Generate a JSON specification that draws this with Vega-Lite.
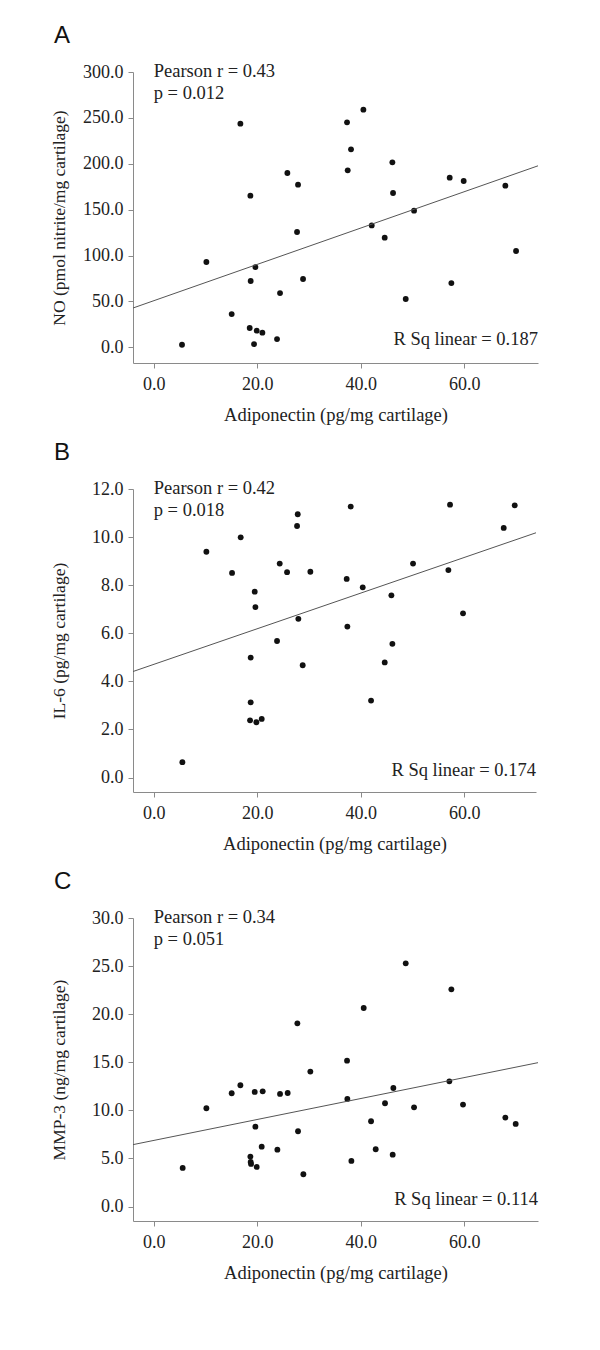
{
  "$schema": "https://vega.github.io/schema/vega-lite/v6.json",
  "padding": {"left": 50, "top": 24, "right": 10, "bottom": 10},
  "background": "white",
  "spacing": 17,
  "config": {
    "view": {"stroke": null},
    "axis": {
      "grid": false,
      "domainColor": "#8a8a8a",
      "tickColor": "#8a8a8a",
      "tickSize": 5,
      "labelFont": "Liberation Serif",
      "labelFontSize": 18,
      "labelColor": "#222222",
      "titleFont": "Liberation Serif",
      "titleFontSize": 18.5,
      "titleFontWeight": "normal",
      "titleColor": "#222222",
      "labelOverlap": false,
      "labelFlush": false
    },
    "axisX": {"labelPadding": 7, "titlePadding": 12},
    "axisY": {"labelPadding": 5, "titleFontSize": 17.5},
    "title": {
      "anchor": "start",
      "frame": "group",
      "font": "Liberation Sans",
      "fontSize": 24,
      "fontWeight": "normal",
      "color": "#111111",
      "dx": -79,
      "offset": 14
    },
    "text": {"font": "Liberation Serif", "fontSize": 18.5, "color": "#222222"}
  },
  "datasets": {
    "a": [
      {"adiponectin": 5.47, "no": 2.9},
      {"adiponectin": 10.18, "no": 93.0},
      {"adiponectin": 15.07, "no": 36.3},
      {"adiponectin": 16.75, "no": 243.7},
      {"adiponectin": 18.68, "no": 165.3},
      {"adiponectin": 18.74, "no": 72.3},
      {"adiponectin": 18.55, "no": 21.1},
      {"adiponectin": 19.65, "no": 87.5},
      {"adiponectin": 19.39, "no": 3.6},
      {"adiponectin": 19.9, "no": 18.2},
      {"adiponectin": 21.0, "no": 16.0},
      {"adiponectin": 23.83, "no": 9.1},
      {"adiponectin": 24.41, "no": 59.2},
      {"adiponectin": 25.83, "no": 190.0},
      {"adiponectin": 27.89, "no": 177.3},
      {"adiponectin": 27.7, "no": 125.7},
      {"adiponectin": 28.86, "no": 74.5},
      {"adiponectin": 37.36, "no": 245.2},
      {"adiponectin": 37.49, "no": 192.9},
      {"adiponectin": 38.13, "no": 215.8},
      {"adiponectin": 40.52, "no": 259.0},
      {"adiponectin": 42.13, "no": 132.9},
      {"adiponectin": 44.64, "no": 119.5},
      {"adiponectin": 46.12, "no": 201.6},
      {"adiponectin": 46.25, "no": 168.2},
      {"adiponectin": 48.7, "no": 52.7},
      {"adiponectin": 50.31, "no": 148.9},
      {"adiponectin": 57.2, "no": 184.9},
      {"adiponectin": 57.52, "no": 70.1},
      {"adiponectin": 59.9, "no": 181.3},
      {"adiponectin": 67.95, "no": 176.2},
      {"adiponectin": 70.02, "no": 105.0}
    ],
    "b": [
      {"adiponectin": 5.54, "il6": 0.64},
      {"adiponectin": 10.18, "il6": 9.39},
      {"adiponectin": 15.14, "il6": 8.51},
      {"adiponectin": 16.81, "il6": 9.99},
      {"adiponectin": 19.52, "il6": 7.73},
      {"adiponectin": 19.65, "il6": 7.09},
      {"adiponectin": 18.74, "il6": 4.99},
      {"adiponectin": 18.74, "il6": 3.13},
      {"adiponectin": 18.62, "il6": 2.38},
      {"adiponectin": 19.84, "il6": 2.3},
      {"adiponectin": 20.87, "il6": 2.44},
      {"adiponectin": 23.83, "il6": 5.68},
      {"adiponectin": 24.35, "il6": 8.9},
      {"adiponectin": 25.77, "il6": 8.54},
      {"adiponectin": 27.83, "il6": 10.95},
      {"adiponectin": 27.7, "il6": 10.46},
      {"adiponectin": 27.95, "il6": 6.6},
      {"adiponectin": 28.79, "il6": 4.67},
      {"adiponectin": 30.27, "il6": 8.56},
      {"adiponectin": 37.29, "il6": 8.26},
      {"adiponectin": 37.42, "il6": 6.28},
      {"adiponectin": 38.07, "il6": 11.27},
      {"adiponectin": 40.39, "il6": 7.91},
      {"adiponectin": 42.0, "il6": 3.2},
      {"adiponectin": 44.64, "il6": 4.79},
      {"adiponectin": 45.93, "il6": 7.58},
      {"adiponectin": 46.12, "il6": 5.56},
      {"adiponectin": 50.11, "il6": 8.9},
      {"adiponectin": 56.94, "il6": 8.63},
      {"adiponectin": 57.26, "il6": 11.35},
      {"adiponectin": 59.77, "il6": 6.83},
      {"adiponectin": 67.63, "il6": 10.38},
      {"adiponectin": 69.76, "il6": 11.32}
    ],
    "c": [
      {"adiponectin": 5.6, "mmp3": 4.02},
      {"adiponectin": 10.18, "mmp3": 10.22},
      {"adiponectin": 15.07, "mmp3": 11.78},
      {"adiponectin": 16.75, "mmp3": 12.61},
      {"adiponectin": 19.52, "mmp3": 11.92},
      {"adiponectin": 21.06, "mmp3": 11.98},
      {"adiponectin": 19.65, "mmp3": 8.31},
      {"adiponectin": 18.68, "mmp3": 5.2},
      {"adiponectin": 18.74, "mmp3": 4.64},
      {"adiponectin": 18.81, "mmp3": 4.43},
      {"adiponectin": 19.9, "mmp3": 4.12},
      {"adiponectin": 20.87, "mmp3": 6.23},
      {"adiponectin": 23.9, "mmp3": 5.92},
      {"adiponectin": 24.41, "mmp3": 11.71},
      {"adiponectin": 25.89, "mmp3": 11.81},
      {"adiponectin": 27.76, "mmp3": 19.05},
      {"adiponectin": 27.89, "mmp3": 7.83},
      {"adiponectin": 28.92, "mmp3": 3.36},
      {"adiponectin": 30.27, "mmp3": 14.03},
      {"adiponectin": 37.36, "mmp3": 15.17},
      {"adiponectin": 37.42, "mmp3": 11.19},
      {"adiponectin": 38.2, "mmp3": 4.75},
      {"adiponectin": 40.58, "mmp3": 20.64},
      {"adiponectin": 42.0, "mmp3": 8.87},
      {"adiponectin": 42.9, "mmp3": 5.96},
      {"adiponectin": 44.7, "mmp3": 10.74},
      {"adiponectin": 46.31, "mmp3": 12.33},
      {"adiponectin": 46.18, "mmp3": 5.4},
      {"adiponectin": 48.7, "mmp3": 25.29},
      {"adiponectin": 50.31, "mmp3": 10.32},
      {"adiponectin": 57.13, "mmp3": 13.02},
      {"adiponectin": 57.52, "mmp3": 22.58},
      {"adiponectin": 59.77, "mmp3": 10.6},
      {"adiponectin": 67.95, "mmp3": 9.25},
      {"adiponectin": 69.95, "mmp3": 8.59}
    ],
    "fitA": [{"adiponectin": -4, "no": 42.9}, {"adiponectin": 74.26, "no": 197.8}],
    "fitB": [{"adiponectin": -4, "il6": 4.41}, {"adiponectin": 73.87, "il6": 10.18}],
    "fitC": [{"adiponectin": -4, "mmp3": 6.44}, {"adiponectin": 74.26, "mmp3": 14.96}],
    "statsA": [{"r": "Pearson r = 0.43", "p": "p = 0.012", "rsq": "R Sq linear = 0.187"}],
    "statsB": [{"r": "Pearson r = 0.42", "p": "p = 0.018", "rsq": "R Sq linear = 0.174"}],
    "statsC": [{"r": "Pearson r = 0.34", "p": "p = 0.051", "rsq": "R Sq linear = 0.114"}]
  },
  "vconcat": [
    {
      "title": {"text": "A"},
      "width": 405,
      "height": 291,
      "layer": [
        {
          "data": {"name": "a"},
          "mark": {"type": "circle", "size": 34, "color": "#111111", "opacity": 1},
          "encoding": {
            "x": {"field": "adiponectin", "type": "quantitative",
              "scale": {"domain": [-4, 74.26], "nice": false, "zero": false},
              "axis": {"values": [0, 20, 40, 60], "format": ".1f", "title": "Adiponectin (pg/mg cartilage)"}},
            "y": {"field": "no", "type": "quantitative",
              "scale": {"domain": [-17, 300], "nice": false, "zero": false},
              "axis": {"values": [0, 50, 100, 150, 200, 250, 300], "format": ".1f", "title": "NO (pmol nitrite/mg cartilage)", "titlePadding": 14.5}}
          }
        },
        {
          "data": {"name": "fitA"},
          "mark": {"type": "line", "color": "#555555", "strokeWidth": 1},
          "encoding": {
            "x": {"field": "adiponectin", "type": "quantitative"},
            "y": {"field": "no", "type": "quantitative"}
          }
        },
        {
          "data": {"name": "statsA"},
          "mark": {"type": "text", "align": "left", "baseline": "alphabetic", "dy": 5},
          "encoding": {"x": {"datum": 0}, "y": {"datum": 300}, "text": {"field": "r"}}
        },
        {
          "data": {"name": "statsA"},
          "mark": {"type": "text", "align": "left", "baseline": "alphabetic", "dy": 27},
          "encoding": {"x": {"datum": 0}, "y": {"datum": 300}, "text": {"field": "p"}}
        },
        {
          "data": {"name": "statsA"},
          "mark": {"type": "text", "align": "right", "baseline": "alphabetic", "dy": -2},
          "encoding": {"x": {"datum": 74.26}, "y": {"datum": 0}, "text": {"field": "rsq"}}
        }
      ]
    },
    {
      "title": {"text": "B"},
      "width": 403,
      "height": 303,
      "layer": [
        {
          "data": {"name": "b"},
          "mark": {"type": "circle", "size": 34, "color": "#111111", "opacity": 1},
          "encoding": {
            "x": {"field": "adiponectin", "type": "quantitative",
              "scale": {"domain": [-4, 73.87], "nice": false, "zero": false},
              "axis": {"values": [0, 20, 40, 60], "format": ".1f", "title": "Adiponectin (pg/mg cartilage)"}},
            "y": {"field": "il6", "type": "quantitative",
              "scale": {"domain": [-0.6, 12], "nice": false, "zero": false},
              "axis": {"values": [0, 2, 4, 6, 8, 10, 12], "format": ".1f", "title": "IL-6 (pg/mg cartilage)", "titlePadding": 23.5}}
          }
        },
        {
          "data": {"name": "fitB"},
          "mark": {"type": "line", "color": "#555555", "strokeWidth": 1},
          "encoding": {
            "x": {"field": "adiponectin", "type": "quantitative"},
            "y": {"field": "il6", "type": "quantitative"}
          }
        },
        {
          "data": {"name": "statsB"},
          "mark": {"type": "text", "align": "left", "baseline": "alphabetic", "dy": 5},
          "encoding": {"x": {"datum": 0}, "y": {"datum": 12}, "text": {"field": "r"}}
        },
        {
          "data": {"name": "statsB"},
          "mark": {"type": "text", "align": "left", "baseline": "alphabetic", "dy": 27},
          "encoding": {"x": {"datum": 0}, "y": {"datum": 12}, "text": {"field": "p"}}
        },
        {
          "data": {"name": "statsB"},
          "mark": {"type": "text", "align": "right", "baseline": "alphabetic", "dy": -2},
          "encoding": {"x": {"datum": 73.87}, "y": {"datum": 0}, "text": {"field": "rsq"}}
        }
      ]
    },
    {
      "title": {"text": "C"},
      "width": 405,
      "height": 303,
      "layer": [
        {
          "data": {"name": "c"},
          "mark": {"type": "circle", "size": 34, "color": "#111111", "opacity": 1},
          "encoding": {
            "x": {"field": "adiponectin", "type": "quantitative",
              "scale": {"domain": [-4, 74.26], "nice": false, "zero": false},
              "axis": {"values": [0, 20, 40, 60], "format": ".1f", "title": "Adiponectin (pg/mg cartilage)"}},
            "y": {"field": "mmp3", "type": "quantitative",
              "scale": {"domain": [-1.5, 30], "nice": false, "zero": false},
              "axis": {"values": [0, 5, 10, 15, 20, 25, 30], "format": ".1f", "title": "MMP-3 (ng/mg cartilage)", "titlePadding": 23.5}}
          }
        },
        {
          "data": {"name": "fitC"},
          "mark": {"type": "line", "color": "#555555", "strokeWidth": 1},
          "encoding": {
            "x": {"field": "adiponectin", "type": "quantitative"},
            "y": {"field": "mmp3", "type": "quantitative"}
          }
        },
        {
          "data": {"name": "statsC"},
          "mark": {"type": "text", "align": "left", "baseline": "alphabetic", "dy": 5},
          "encoding": {"x": {"datum": 0}, "y": {"datum": 30}, "text": {"field": "r"}}
        },
        {
          "data": {"name": "statsC"},
          "mark": {"type": "text", "align": "left", "baseline": "alphabetic", "dy": 27},
          "encoding": {"x": {"datum": 0}, "y": {"datum": 30}, "text": {"field": "p"}}
        },
        {
          "data": {"name": "statsC"},
          "mark": {"type": "text", "align": "right", "baseline": "alphabetic", "dy": -2},
          "encoding": {"x": {"datum": 74.26}, "y": {"datum": 0}, "text": {"field": "rsq"}}
        }
      ]
    }
  ]
}
